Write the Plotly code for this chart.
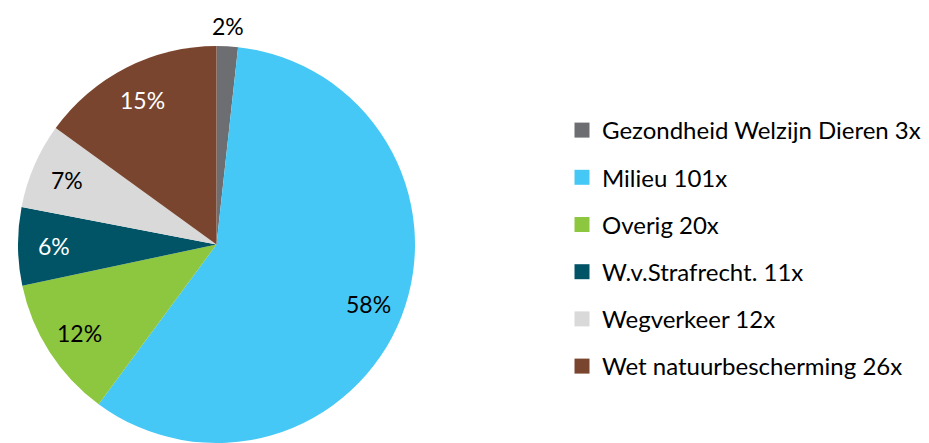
import math
import plotly.graph_objects as go

categories = ["Gezondheid Welzijn Dieren", "Milieu", "Overig", "W.v.Strafrecht.", "Wegverkeer", "Wet natuurbescherming"]
counts = [3, 101, 20, 11, 12, 26]
legend_labels = [f"{c} {n}x" for c, n in zip(categories, counts)]
colors = ["#6D6E71", "#45C8F5", "#8DC63F", "#005466", "#D9D9D9", "#7A452E"]
text_colors = ["#000000", "#000000", "#000000", "#FFFFFF", "#000000", "#FFFFFF"]
label_outside = [True, False, False, False, False, False]

FONT = "Lato"
W, H = 929, 443
T, B = 46, 0
PH = H - T - B
cx_px = 216.5
dom_x = [(cx_px - PH / 2) / W, (cx_px + PH / 2) / W]

fig = go.Figure()
fig.add_trace(go.Pie(
    labels=categories,
    values=counts,
    sort=False,
    direction="clockwise",
    rotation=0,
    marker=dict(colors=colors, line=dict(width=0)),
    textinfo="none",
    domain=dict(x=dom_x, y=[0, 1]),
    showlegend=False,
    hoverinfo="label+value+percent",
))

for i, (lab, col) in enumerate(zip(legend_labels, colors)):
    fig.add_trace(go.Scatter(
        x=[None], y=[None], mode="markers", name=lab,
        marker=dict(symbol="square", size=15, color=col),
        legendgroup=f"g{i}", showlegend=True,
    ))

# percentage labels at each slice's mid-angle
total = sum(counts)
R = PH / 2
cum = 0
for v, tc, out in zip(counts, text_colors, label_outside):
    mid = (cum + v / 2) / total * 2 * math.pi
    cum += v
    r_lab = R + 20 if out else 0.82 * R
    fig.add_annotation(
        x=(cx_px + r_lab * math.sin(mid)) / W,
        y=0.5 + r_lab * math.cos(mid) / PH,
        xref="paper", yref="paper",
        text=f"{round(100 * v / total)}%", showarrow=False,
        font=dict(family=FONT, size=23, color=tc),
        xanchor="center", yanchor="middle",
    )

fig.update_layout(
    width=W, height=H,
    margin=dict(l=0, r=0, t=T, b=B),
    paper_bgcolor="white", plot_bgcolor="white",
    font=dict(family=FONT, size=24, color="#000000"),
    xaxis=dict(visible=False), yaxis=dict(visible=False),
    legend=dict(x=562 / W, xanchor="left", y=1 - (108 - T) / PH, yanchor="top",
                font=dict(family=FONT, size=24, color="#000000"),
                tracegroupgap=13, bgcolor="rgba(0,0,0,0)"),
)
fig.write_html("out.html", config={"displayModeBar": False},
               post_script="document.body.style.margin='0';document.body.style.overflow='hidden';")
